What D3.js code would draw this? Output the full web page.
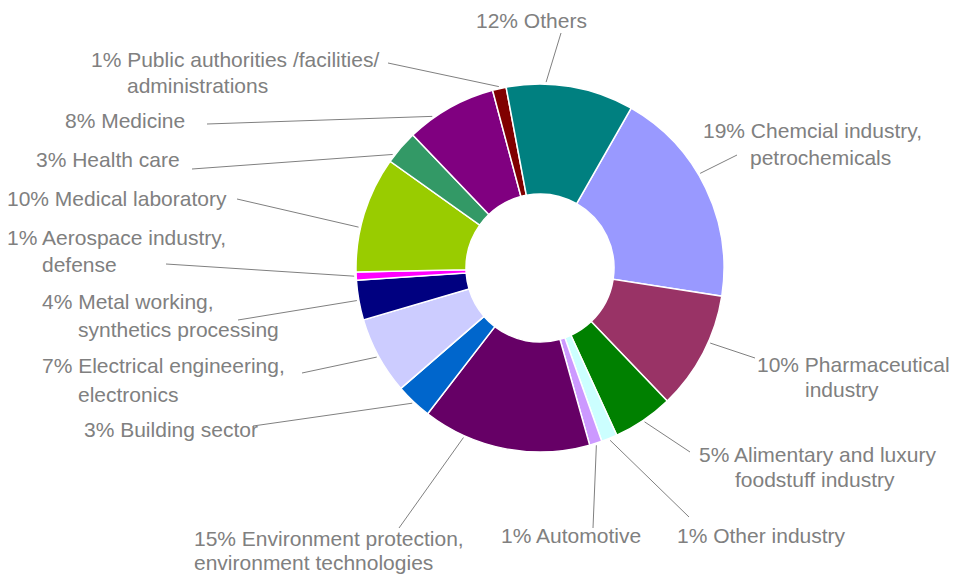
<!DOCTYPE html>
<html>
<head>
<meta charset="utf-8">
<script src="https://cdn.jsdelivr.net/npm/d3@7"></script>
<style>
  html, body { margin: 0; padding: 0; background: #fff; }
  #chart { width: 955px; height: 575px; }
  text { font-family: "Liberation Sans", Arial, sans-serif; }
</style>
</head>
<body>
<div id="chart"></div>
<script>
// Sectors, clockwise from the first slice
const categories = [
  'Chemcial industry,\npetrochemicals',
  'Pharmaceutical\nindustry',
  'Alimentary and luxury\nfoodstuff industry',
  'Other industry',
  'Automotive',
  'Environment protection,\nenvironment technologies',
  'Building sector',
  'Electrical engineering,\nelectronics',
  'Metal working,\nsynthetics processing',
  'Aerospace industry,\ndefense',
  'Medical laboratory',
  'Health care',
  'Medicine',
  'Public authorities /facilities/\nadministrations',
  'Others'
];

// slice sizes
const values = [19.2, 10.4, 5.3, 1.4, 1.1, 14.8, 3.2, 6.8, 3.5, 0.7, 10.2, 3.0, 8.0, 1.2, 11.2];

// percentages as printed on the labels
const percentLabels = ['19%', '10%', '5%', '1%', '1%', '15%', '3%', '7%', '4%', '1%', '10%', '3%', '8%', '1%', '12%'];

const colors = [
  '#9999FF', '#993366', '#008000', '#CCFFFF', '#CC99FF', '#660066', '#0066CC', '#CCCCFF',
  '#000080', '#FF00FF', '#99CC00', '#339966', '#800080', '#800000', '#008080'
];

// label placement (manually placed labels, like the original)
// x,y = first line; x2,y2 = second line; lx,ly = leader start; at = where on the slice the leader ends
const labelLayout = [
  { x: 703, y: 138, x2: 750, y2: 165, lx: 737, ly: 155, at: 0.43 },
  { x: 757, y: 372, x2: 805, y2: 397, lx: 755, ly: 358, at: 0.40 },
  { x: 699, y: 462, x2: 735, y2: 487, lx: 690, ly: 452, at: 0.5 },
  { x: 677, y: 543, lx: 689, ly: 517, at: 0.5 },
  { x: 501, y: 543, lx: 593, ly: 528, at: 0.5 },
  { x: 194, y: 546, x2: 194, y2: 570, lx: 399, ly: 528, at: 0.75 },
  { x: 84, y: 437, lx: 253, ly: 426, at: 0.5 },
  { x: 42, y: 373, x2: 78, y2: 402, lx: 302, ly: 373, at: 0.5 },
  { x: 42, y: 309, x2: 78, y2: 337, lx: 238, ly: 320, at: 0.5 },
  { x: 7, y: 245, x2: 42, y2: 272, lx: 166, ly: 264, at: 0.5 },
  { x: 7, y: 206, lx: 237, ly: 199, at: 0.38 },
  { x: 36, y: 167, lx: 192, ly: 169, at: 0.2 },
  { x: 65, y: 128, lx: 207, ly: 124, at: 0.29 },
  { x: 91, y: 67, x2: 127, y2: 93, lx: 388, ly: 63, at: 0.5 },
  { x: 476, y: 28, lx: 561, ly: 33, at: 0.31 }
];

const width = 955;
const height = 575;
const cx = 540, cy = 268;
const outerR = 184, innerR = 74;
const startDeg = 29.7;

const svg = d3.select('#chart')
  .append('svg')
  .attr('width', width)
  .attr('height', height);

const rad = d => d * Math.PI / 180;

const pie = d3.pie()
  .value(d => d)
  .sort(null)
  .startAngle(rad(startDeg))
  .endAngle(rad(startDeg + 360));

const arc = d3.arc().innerRadius(innerR).outerRadius(outerR);
const arcs = pie(values);

const g = svg.append('g').attr('transform', `translate(${cx},${cy})`);

g.selectAll('path')
  .data(arcs)
  .enter()
  .append('path')
  .attr('d', arc)
  .attr('fill', (d, i) => colors[i])
  .attr('stroke', '#fff')
  .attr('stroke-width', 1.5);

// leader lines
svg.append('g')
  .selectAll('line')
  .data(arcs)
  .enter()
  .append('line')
  .attr('x1', (d, i) => labelLayout[i].lx)
  .attr('y1', (d, i) => labelLayout[i].ly)
  .attr('x2', (d, i) => {
    const a = d.startAngle + labelLayout[i].at * (d.endAngle - d.startAngle);
    return cx + d3.pointRadial(a, outerR + 2)[0];
  })
  .attr('y2', (d, i) => {
    const a = d.startAngle + labelLayout[i].at * (d.endAngle - d.startAngle);
    return cy + d3.pointRadial(a, outerR + 2)[1];
  })
  .attr('stroke', '#808080')
  .attr('stroke-width', 1);

// labels
const labels = svg.append('g')
  .style('font-size', '21px')
  .style('fill', '#808080');

categories.forEach((name, i) => {
  const lines = name.split('\n');
  const pos = labelLayout[i];
  labels.append('text')
    .attr('x', pos.x)
    .attr('y', pos.y)
    .text(`${percentLabels[i]} ${lines[0]}`);
  if (lines[1]) {
    labels.append('text')
      .attr('x', pos.x2)
      .attr('y', pos.y2)
      .text(lines[1]);
  }
});
</script>
</body>
</html>
